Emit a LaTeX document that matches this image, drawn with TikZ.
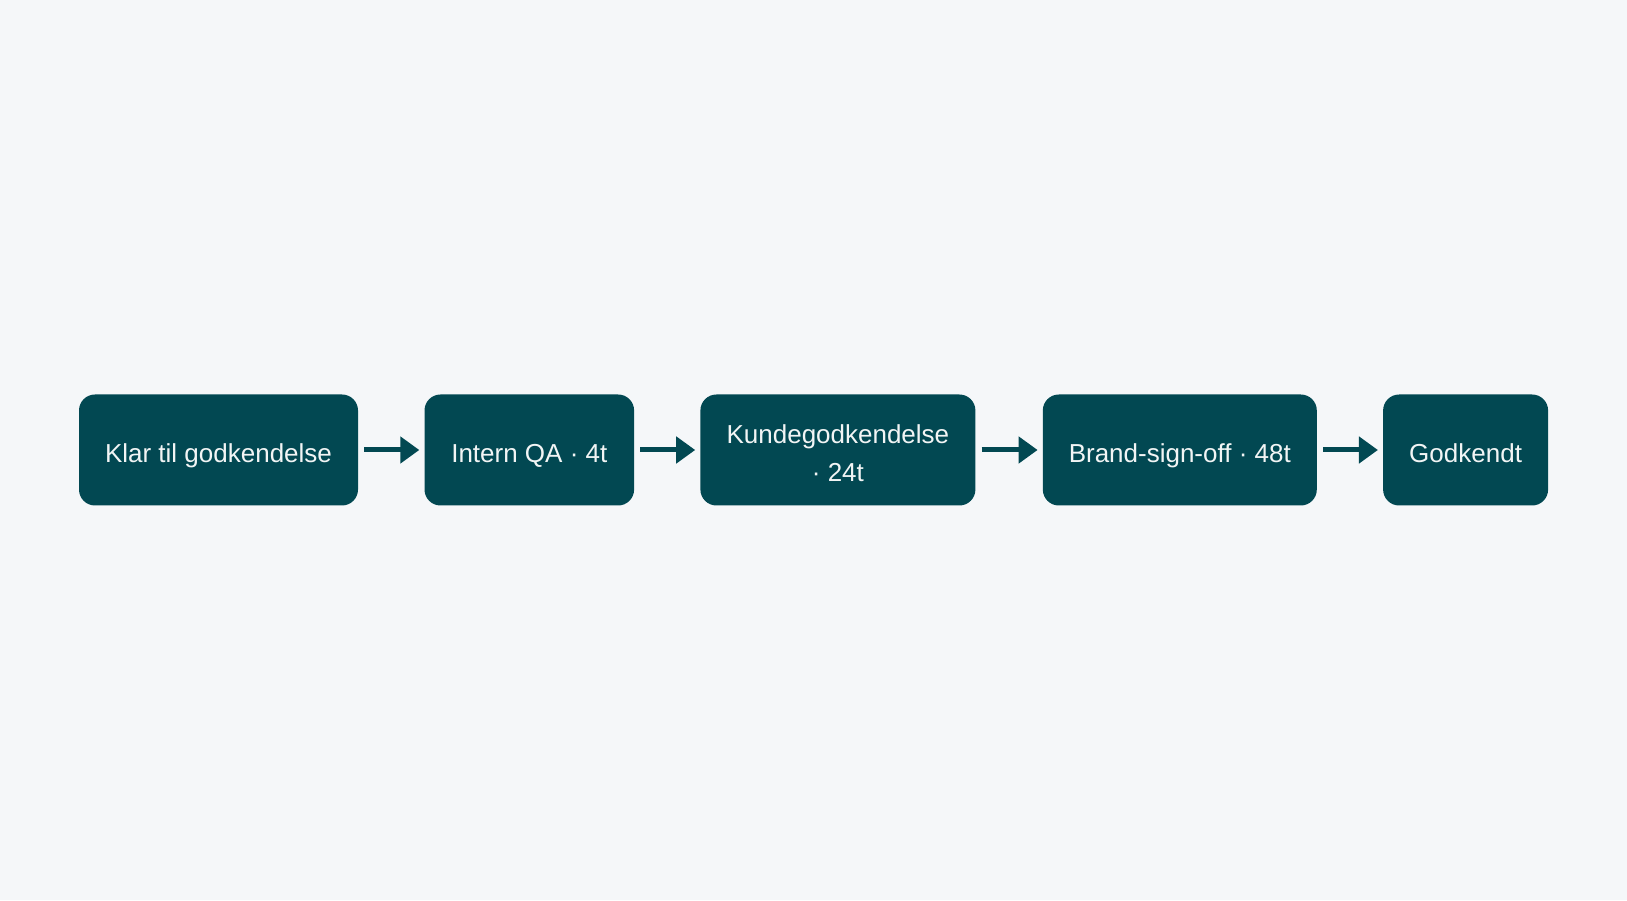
\documentclass[tikz,border=0pt]{standalone}
\usepackage{fontspec}
\setmainfont{Liberation Sans}
\usetikzlibrary{arrows.meta}

\definecolor{tealbox}{HTML}{024852}
\definecolor{pagebg}{HTML}{F5F7F9}
\definecolor{boxtext}{HTML}{F2F5F5}

\begin{document}
\begin{tikzpicture}[x=1pt, y=1pt, align=center,
    font=\fontsize{26}{37.5}\selectfont]
    \tikzstyle{every node} = [rectangle, rounded corners=16pt, fill=tealbox,
        text=boxtext, inner sep=0pt, minimum height=111pt]
    \tikzstyle{oneline} = [text height=25.6pt, text depth=0pt]
    \tikzstyle{flow} = [draw=tealbox, line width=5pt,
        -{Triangle[length=19pt, width=26pt]}, shorten <=6pt, shorten >=5pt]

    \fill [pagebg] (0, 0) rectangle (1627, 900);
    \useasboundingbox (0, 0) rectangle (1627, 900);

    \node (klar) at (218.5, 450) [oneline, minimum width=279pt] {Klar til godkendelse};
    \node (qa) at (529.3, 450) [oneline, minimum width=209.6pt] {Intern QA · 4t};
    \node (kunde) at (837.9, 450) [text height=62.5pt, text depth=0pt, minimum width=275pt] {Kundegodkendelse \\ · 24t};
    \node (brand) at (1179.8, 450) [oneline, minimum width=274pt] {Brand-sign-off · 48t};
    \node (godk) at (1465.6, 450) [oneline, minimum width=165pt] {Godkendt};

    \draw [flow] (klar) -- (qa);
    \draw [flow] (qa) -- (kunde);
    \draw [flow] (kunde) -- (brand);
    \draw [flow] (brand) -- (godk);
\end{tikzpicture}
\end{document}
